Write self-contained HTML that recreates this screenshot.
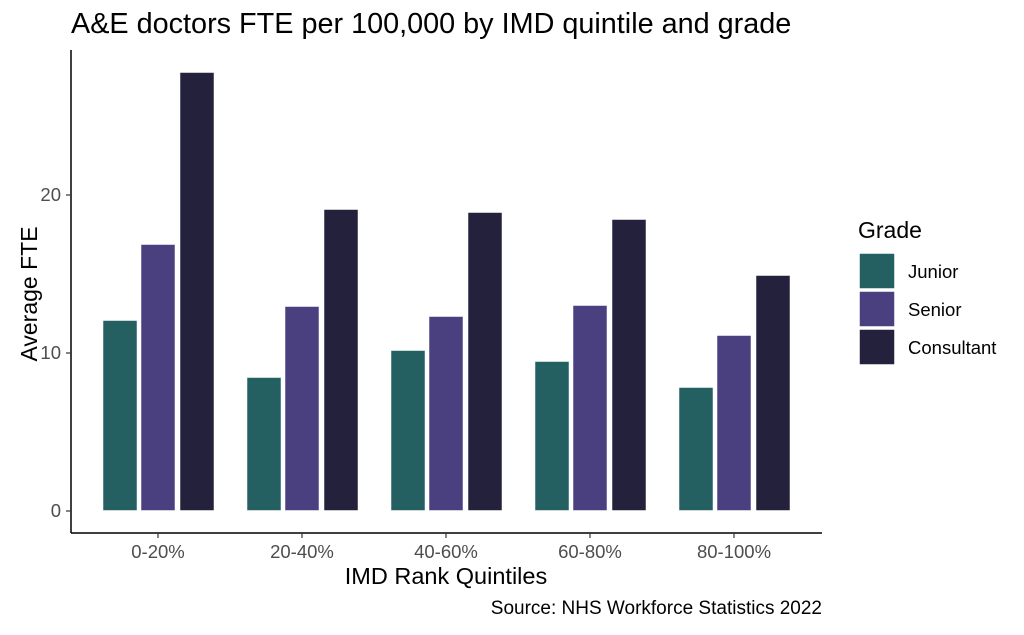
<!DOCTYPE html>
<html><head><meta charset="utf-8"><style>
body{margin:0;background:#fff;}
svg{font-family:"Liberation Sans",Arial,sans-serif;}
</style></head><body>
<svg width="1024" height="630" viewBox="0 0 1024 630" xmlns="http://www.w3.org/2000/svg">
<rect width="1024" height="630" fill="#fff"/>
<text x="71" y="33" font-size="28.8" fill="#000">A&amp;E doctors FTE per 100,000 by IMD quintile and grade</text>
<g stroke="#fff" stroke-width="1.5">
<rect x="102.5" y="320" width="35" height="191" fill="#246062"/>
<rect x="140.5" y="244" width="35" height="267" fill="#4a4080"/>
<rect x="179.5" y="72" width="35" height="439" fill="#24213d"/>
<rect x="246.5" y="377" width="35" height="134" fill="#246062"/>
<rect x="284.5" y="306" width="35" height="205" fill="#4a4080"/>
<rect x="323.5" y="209" width="35" height="302" fill="#24213d"/>
<rect x="390.5" y="350" width="35" height="161" fill="#246062"/>
<rect x="428.5" y="316" width="35" height="195" fill="#4a4080"/>
<rect x="467.5" y="212" width="35" height="299" fill="#24213d"/>
<rect x="534.5" y="361" width="35" height="150" fill="#246062"/>
<rect x="572.5" y="305" width="35" height="206" fill="#4a4080"/>
<rect x="611.5" y="219" width="35" height="292" fill="#24213d"/>
<rect x="678.5" y="387" width="35" height="124" fill="#246062"/>
<rect x="716.5" y="335" width="35" height="176" fill="#4a4080"/>
<rect x="755.5" y="275" width="35" height="236" fill="#24213d"/>
</g>
<line x1="71" y1="50" x2="71" y2="533" stroke="#000" stroke-width="1.5"/>
<line x1="71" y1="533" x2="822" y2="533" stroke="#000" stroke-width="1.5"/>
<g stroke="#333" stroke-width="1.2">
<line x1="66" y1="511" x2="71" y2="511"/><line x1="66" y1="353" x2="71" y2="353"/><line x1="66" y1="195" x2="71" y2="195"/>
<line x1="158" y1="533" x2="158" y2="538"/><line x1="302" y1="533" x2="302" y2="538"/><line x1="446" y1="533" x2="446" y2="538"/><line x1="590" y1="533" x2="590" y2="538"/><line x1="734" y1="533" x2="734" y2="538"/>
</g>
<g font-size="18.5" fill="#4d4d4d" text-anchor="end">
<text x="61" y="517">0</text><text x="61" y="359">10</text><text x="61" y="201">20</text>
</g>
<g font-size="18.5" fill="#4d4d4d" text-anchor="middle">
<text x="158" y="558">0-20%</text><text x="302" y="558">20-40%</text><text x="446" y="558">40-60%</text><text x="590" y="558">60-80%</text><text x="734" y="558">80-100%</text>
</g>
<text x="446" y="584" font-size="23.5" text-anchor="middle" fill="#000">IMD Rank Quintiles</text>
<text transform="translate(37,294) rotate(-90)" font-size="23" text-anchor="middle" fill="#000">Average FTE</text>
<text x="822" y="614" font-size="19" text-anchor="end" fill="#000">Source: NHS Workforce Statistics 2022</text>
<text x="858" y="238" font-size="23" fill="#000">Grade</text>
<g stroke="#fff" stroke-width="1.5">
<rect x="859" y="253" width="36" height="36" fill="#246062"/>
<rect x="859" y="291" width="36" height="36" fill="#4a4080"/>
<rect x="859" y="329" width="36" height="36" fill="#24213d"/>
</g>
<g font-size="18.5" fill="#000">
<text x="908" y="278">Junior</text><text x="908" y="316">Senior</text><text x="908" y="354">Consultant</text>
</g>
</svg>
</body></html>
